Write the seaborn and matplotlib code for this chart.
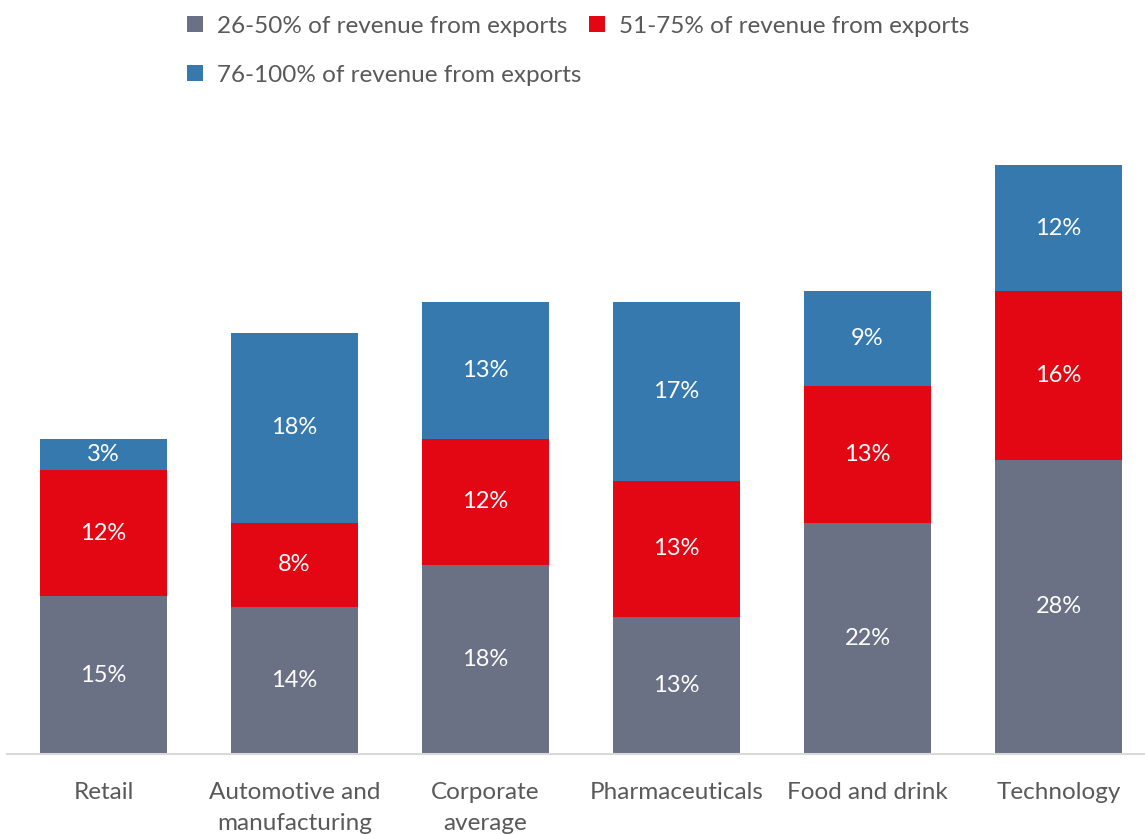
import numpy as np
import pandas as pd
import matplotlib
matplotlib.use("Agg")
import matplotlib.pyplot as plt
from matplotlib.patches import Patch
import seaborn as sns

# Share of companies by export dependence, per sector (%)
sectors = ["Retail", "Automotive and\nmanufacturing", "Corporate\naverage",
           "Pharmaceuticals", "Food and drink", "Technology"]
share_26_50 = [15, 14, 18, 13, 22, 28]
share_51_75 = [12, 8, 12, 13, 13, 16]
share_76_100 = [3, 18, 13, 17, 9, 12]
series_labels = ["26-50% of revenue from exports",
                 "51-75% of revenue from exports",
                 "76-100% of revenue from exports"]
series_colors = ["#6A7185", "#E30613", "#3579AE"]

sns.set_theme(style="white")
plt.rcParams["font.family"] = ["Lato", "DejaVu Sans"]
text_color = "#595959"

layers = np.array([share_26_50, share_51_75, share_76_100], dtype=float)
tops = np.cumsum(layers, axis=0)
bottoms = tops - layers

fig = plt.figure(figsize=(11.45, 8.34), dpi=100)
ax = fig.add_axes([7 / 1145, 80 / 834, 1 - 7 / 1145, (754 - 123) / 834])

# Stacked bars: draw cumulative totals from the top layer down
for i in reversed(range(3)):
    df = pd.DataFrame({"sector": sectors, "value": tops[i]})
    sns.barplot(data=df, x="sector", y="value", color=series_colors[i],
                width=0.665, saturation=1, ax=ax, linewidth=0, zorder=2)

for i in range(3):
    for j in range(len(sectors)):
        ax.text(j, bottoms[i, j] + layers[i, j] / 2, f"{int(layers[i, j])}%",
                ha="center", va="center", color="white", fontsize=17, zorder=3)

ax.set_xlim(-0.505, 5.453)
ax.set_ylim(0, 60)
ax.set_xlabel("")
ax.set_ylabel("")
ax.set_yticks([])
for side in ["left", "right", "top"]:
    ax.spines[side].set_visible(False)
ax.spines["bottom"].set_color("#D9D9D9")
ax.spines["bottom"].set_linewidth(1.5)
ax.tick_params(axis="x", length=0, pad=20, labelsize=17.5, labelcolor=text_color)
for lab in ax.get_xticklabels():
    lab.set_linespacing(1.6)

# Legend laid out row by row: two entries on the first line, one below
order = [0, 2, 1]
handles = [Patch(facecolor=series_colors[k], edgecolor="none") for k in order]
labels = [series_labels[k] for k in order]
fig.legend(handles, labels, loc="upper left",
           bbox_to_anchor=(165 / 1145, 1 + 6 / 834), ncol=2, frameon=False,
           fontsize=17.5, handlelength=0.65, handleheight=0.65,
           handletextpad=0.6, columnspacing=0.3, labelspacing=1.15,
           labelcolor=text_color)

fig.savefig("out.png", dpi=100, facecolor="white")
